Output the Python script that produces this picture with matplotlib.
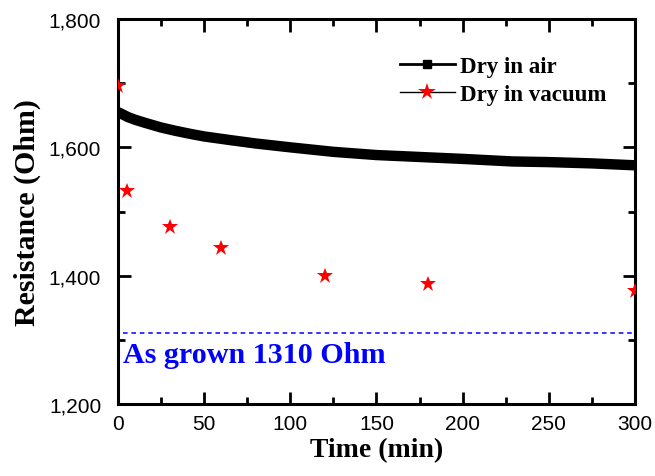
import matplotlib
matplotlib.use("Agg")
import matplotlib.pyplot as plt
from matplotlib.ticker import MultipleLocator, FuncFormatter
from matplotlib.lines import Line2D

# Data
air_time = [0, 3, 6, 10, 16, 25, 33, 42, 50, 58, 66, 80, 100, 125, 150, 175, 200, 229, 250, 275, 300]
air_res = [1655, 1651, 1647, 1643, 1638, 1631, 1626, 1621, 1617, 1614, 1611, 1606, 1600, 1593,
           1588, 1585, 1582, 1578, 1577, 1575, 1572]
vac_time = [0, 5, 30, 60, 120, 180, 300]
vac_res = [1695, 1532, 1476, 1443, 1400, 1387, 1376]
as_grown = 1310

serif = "Liberation Serif"
sans = "Liberation Sans"

fig = plt.figure(figsize=(6.55, 4.77), dpi=100)
ax = fig.add_axes([0.180, 0.151, 0.7895, 0.807])

ax.plot(air_time, air_res, color="black", lw=7.5, solid_capstyle="butt",
        solid_joinstyle="round", zorder=2)
ax.plot(vac_time, vac_res, linestyle="none", marker="*", color="red",
        markersize=12, markeredgewidth=0, zorder=3)
ax.axhline(as_grown, color="blue", lw=1.1, linestyle=(0, (3, 2.5)), xmin=0.01)
ax.text(3, 1265, "As grown 1310 Ohm", color="blue", fontsize=21.7,
        fontweight="bold", fontfamily=serif, va="baseline", ha="left")

ax.set_xlim(0, 300)
ax.set_ylim(1200, 1800)
ax.xaxis.set_major_locator(MultipleLocator(50))
ax.xaxis.set_minor_locator(MultipleLocator(25))
ax.yaxis.set_major_locator(MultipleLocator(200))
ax.yaxis.set_minor_locator(MultipleLocator(100))
ax.yaxis.set_major_formatter(FuncFormatter(lambda v, p: f"{int(v):,}"))

ax.tick_params(which="both", direction="in", top=True, right=True, width=2)
ax.tick_params(which="major", length=9, labelsize=15)
ax.tick_params(axis="x", which="major", pad=7)
ax.tick_params(axis="y", which="major", pad=12)
ax.tick_params(which="minor", length=5)
for lab in ax.get_xticklabels() + ax.get_yticklabels():
    lab.set_fontfamily(sans)
for s in ax.spines.values():
    s.set_linewidth(2.2)

ax.set_xlabel("Time (min)", fontsize=20, fontweight="bold", fontfamily=serif, labelpad=3)
ax.set_ylabel("Resistance (Ohm)", fontsize=21.5, fontweight="bold", fontfamily=serif, labelpad=6)

handles = [
    Line2D([], [], color="black", lw=2, marker="s", markersize=6),
    Line2D([], [], color="black", lw=1, marker="*", markersize=13,
           markerfacecolor="red", markeredgecolor="red", markeredgewidth=0),
]
ax.legend(handles, ["Dry in air", "Dry in vacuum"], loc="upper right",
          bbox_to_anchor=(0.985, 0.957), frameon=False,
          prop={"family": serif, "weight": "bold", "size": 16.5},
          handlelength=2.4, handletextpad=0.25, labelspacing=0.3)

fig.savefig("out.png", dpi=100)
